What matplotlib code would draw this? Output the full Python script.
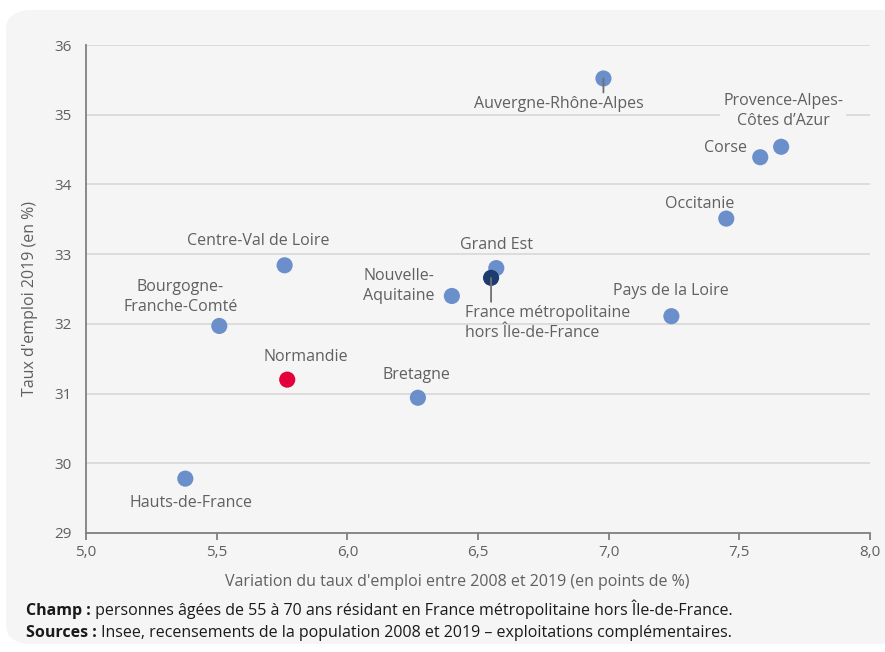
import matplotlib.pyplot as plt
from matplotlib.patches import FancyBboxPatch

plt.rcParams['font.family'] = ['Open Sans', 'DejaVu Sans']

# data
regions = ["Auvergne-Rhône-Alpes", "Provence-Alpes-\nCôtes d’Azur", "Corse", "Occitanie",
           "Pays de la Loire", "Grand Est", "Nouvelle-\nAquitaine",
           "France métropolitaine\nhors Île-de-France", "Centre-Val de Loire",
           "Bourgogne-\nFranche-Comté", "Normandie", "Bretagne", "Hauts-de-France"]
variation = [6.98, 7.66, 7.58, 7.45, 7.24, 6.57, 6.40, 6.55, 5.76, 5.51, 5.77, 6.27, 5.38]
taux_2019 = [35.52, 34.54, 34.39, 33.51, 32.11, 32.80, 32.40, 32.66, 32.84, 31.97, 31.20, 30.94, 29.78]

BLUE = "#6a8fca"
NAVY = "#1d3b6e"
RED = "#e4003a"
TXT = "#606060"
BG = "#f5f5f5"

colors = [BLUE] * len(regions)
colors[regions.index("France métropolitaine\nhors Île-de-France")] = NAVY
colors[regions.index("Normandie")] = RED

# label offsets in pixels (dx, dy, ha)
offsets = {
    "Auvergne-Rhône-Alpes": (-45, -26, "center"),
    "Provence-Alpes-\nCôtes d’Azur": (2, 36, "center"),
    "Corse": (-13, 9, "right"),
    "Occitanie": (-27, 15, "center"),
    "Pays de la Loire": (-1, 25, "center"),
    "Grand Est": (0, 23, "center"),
    "Nouvelle-\nAquitaine": (-53, 10, "center"),
    "France métropolitaine\nhors Île-de-France": (-26, -45, "left"),
    "Centre-Val de Loire": (-26, 24, "center"),
    "Bourgogne-\nFranche-Comté": (-39, 29, "center"),
    "Normandie": (19, 23, "center"),
    "Bretagne": (-1, 23, "center"),
    "Hauts-de-France": (6, -24, "center"),
}
leaders = {"Auvergne-Rhône-Alpes": 14, "France métropolitaine\nhors Île-de-France": 24}

fig = plt.figure(figsize=(8.85, 6.52), dpi=100, facecolor="white")
fig.patches.append(FancyBboxPatch((6 / 885, 8 / 652), 900 / 885, 634 / 652,
                                  boxstyle="round,pad=0,rounding_size=0.03",
                                  transform=fig.transFigure, facecolor=BG,
                                  edgecolor="none", zorder=-10))

ax = fig.add_axes([86 / 885, 1 - 533 / 652, 784 / 885, 488 / 652])
ax.set_facecolor(BG)
ax.set_xlim(5, 8)
ax.set_ylim(29, 36)
ax.set_xticks([5.0, 5.5, 6.0, 6.5, 7.0, 7.5, 8.0])
ax.set_xticklabels(["5,0", "5,5", "6,0", "6,5", "7,0", "7,5", "8,0"])
ax.set_yticks(range(29, 37))
ax.grid(axis="y", color="#dadada", lw=1.3)
ax.set_axisbelow(True)
for s in ["top", "right"]:
    ax.spines[s].set_visible(False)
for s in ["left", "bottom"]:
    ax.spines[s].set_color("#808080")
    ax.spines[s].set_linewidth(1.3)
ax.tick_params(axis="x", length=5, width=1.3, color="#808080", labelcolor=TXT, labelsize=11, pad=4)
ax.tick_params(axis="y", length=0, labelcolor=TXT, labelsize=11, pad=10)

# axis titles placed in figure coords (slightly off-centre in the original)
fig.text(457 / 885, 1 - 582 / 652,
         "Variation du taux d'emploi entre 2008 et 2019 (en points de %)",
         color=TXT, fontsize=11.5, ha="center", va="center")
fig.text(30 / 885, 1 - 299 / 652, "Taux d'emploi 2019 (en %)", color=TXT,
         fontsize=11.5, ha="center", va="center", rotation=90)

ax.scatter(variation, taux_2019, s=135, c=colors, edgecolors="none", zorder=3)

for name, x, y in zip(regions, variation, taux_2019):
    dx, dy, ha = offsets[name]
    kw = {}
    if name.startswith("Provence"):
        kw["bbox"] = dict(facecolor=BG, edgecolor="none", pad=2)
    ax.annotate(name, (x, y), xytext=(dx, dy), textcoords="offset pixels",
                ha=ha, va="center", color=TXT, fontsize=11.5, linespacing=1.3,
                zorder=4, **kw)
    if name in leaders:
        ax.annotate("", (x, y), xytext=(0, -leaders[name]), textcoords="offset pixels",
                    arrowprops=dict(arrowstyle="-", color="#707070", lw=1.3,
                                    shrinkA=0, shrinkB=0), zorder=5)

# footer with bold lead-ins
renderer = fig.canvas.get_renderer()
for ypix, head, body in [(615, "Champ :", " personnes âgées de 55 à 70 ans résidant en France métropolitaine hors Île-de-France."),
                         (637, "Sources :", " Insee, recensements de la population 2008 et 2019 – exploitations complémentaires.")]:
    t = fig.text(26 / 885, 1 - ypix / 652, head, fontweight="bold", fontsize=11.5,
                 color="#1a1a1a", va="baseline", ha="left")
    bb = t.get_window_extent(renderer)
    fig.text(bb.x1 / 885, 1 - ypix / 652, body, fontsize=11.5, color="#1a1a1a",
             va="baseline", ha="left")

fig.savefig("out.png", dpi=100, facecolor="white")
